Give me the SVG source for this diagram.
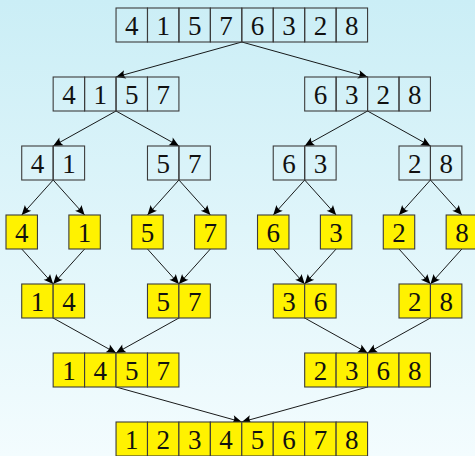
<svg xmlns="http://www.w3.org/2000/svg" width="475" height="456" viewBox="0 0 475 456">
<defs>
<linearGradient id="bg" x1="0" y1="0" x2="0" y2="1">
<stop offset="0" stop-color="#cbeef6"/>
<stop offset="1" stop-color="#f3fcfe"/>
</linearGradient>
<marker id="ah" viewBox="-10 -5 11 10" refX="0" refY="0" markerWidth="11" markerHeight="10" markerUnits="userSpaceOnUse" orient="auto">
<path d="M0,0 L-9.5,-4.3 Q-6.5,0 -9.5,4.3 Z" fill="#000"/>
</marker>
<style>
.c{fill:none;stroke:#3c3c3c;stroke-width:1.1}
.y{fill:#fff200;stroke:#3c3c3c;stroke-width:1.1}
.t{font-family:'Liberation Serif','DejaVu Serif',serif;font-size:27px;fill:#111;text-anchor:middle}
.e{stroke:#000;stroke-width:0.9;fill:none;marker-end:url(#ah)}
</style>
</defs>
<rect x="0" y="0" width="475" height="456" fill="url(#bg)"/>

<g id="connectors">
<line class="e" x1="241.8" y1="42" x2="116.04" y2="77"/>
<line class="e" x1="241.8" y1="42" x2="367.56" y2="77"/>
<line class="e" x1="116.04" y1="111" x2="53.16" y2="146"/>
<line class="e" x1="116.04" y1="111" x2="178.92" y2="146"/>
<line class="e" x1="367.56" y1="111" x2="304.68" y2="146"/>
<line class="e" x1="367.56" y1="111" x2="430.44" y2="146"/>
<line class="e" x1="53.16" y1="180" x2="21.72" y2="215"/>
<line class="e" x1="53.16" y1="180" x2="84.6" y2="215"/>
<line class="e" x1="178.92" y1="180" x2="147.48" y2="215"/>
<line class="e" x1="178.92" y1="180" x2="210.36" y2="215"/>
<line class="e" x1="304.68" y1="180" x2="273.24" y2="215"/>
<line class="e" x1="304.68" y1="180" x2="336.12" y2="215"/>
<line class="e" x1="430.44" y1="180" x2="399" y2="215"/>
<line class="e" x1="430.44" y1="180" x2="461.88" y2="215"/>
<line class="e" x1="21.72" y1="249" x2="53.16" y2="284"/>
<line class="e" x1="84.6" y1="249" x2="53.16" y2="284"/>
<line class="e" x1="147.48" y1="249" x2="178.92" y2="284"/>
<line class="e" x1="210.36" y1="249" x2="178.92" y2="284"/>
<line class="e" x1="273.24" y1="249" x2="304.68" y2="284"/>
<line class="e" x1="336.12" y1="249" x2="304.68" y2="284"/>
<line class="e" x1="399" y1="249" x2="430.44" y2="284"/>
<line class="e" x1="461.88" y1="249" x2="430.44" y2="284"/>
<line class="e" x1="53.16" y1="318" x2="116.04" y2="353"/>
<line class="e" x1="178.92" y1="318" x2="116.04" y2="353"/>
<line class="e" x1="304.68" y1="318" x2="367.56" y2="353"/>
<line class="e" x1="430.44" y1="318" x2="367.56" y2="353"/>
<line class="e" x1="116.04" y1="387" x2="241.8" y2="422"/>
<line class="e" x1="367.56" y1="387" x2="241.8" y2="422"/>
</g>

<g id="n_41576328">
<rect class="c" x="116.04" y="8" width="31.44" height="34"/>
<rect class="c" x="147.48" y="8" width="31.44" height="34"/>
<rect class="c" x="178.92" y="8" width="31.44" height="34"/>
<rect class="c" x="210.36" y="8" width="31.44" height="34"/>
<rect class="c" x="241.8" y="8" width="31.44" height="34"/>
<rect class="c" x="273.24" y="8" width="31.44" height="34"/>
<rect class="c" x="304.68" y="8" width="31.44" height="34"/>
<rect class="c" x="336.12" y="8" width="31.44" height="34"/>
<text class="t" x="131.76" y="34.5">4</text>
<text class="t" x="163.2" y="34.5">1</text>
<text class="t" x="194.64" y="34.5">5</text>
<text class="t" x="226.08" y="34.5">7</text>
<text class="t" x="257.52" y="34.5">6</text>
<text class="t" x="288.96" y="34.5">3</text>
<text class="t" x="320.4" y="34.5">2</text>
<text class="t" x="351.84" y="34.5">8</text>
</g>

<g id="n_4157">
<rect class="c" x="53.16" y="77" width="31.44" height="34"/>
<rect class="c" x="84.6" y="77" width="31.44" height="34"/>
<rect class="c" x="116.04" y="77" width="31.44" height="34"/>
<rect class="c" x="147.48" y="77" width="31.44" height="34"/>
<text class="t" x="68.88" y="103.5">4</text>
<text class="t" x="100.32" y="103.5">1</text>
<text class="t" x="131.76" y="103.5">5</text>
<text class="t" x="163.2" y="103.5">7</text>
</g>

<g id="n_6328">
<rect class="c" x="304.68" y="77" width="31.44" height="34"/>
<rect class="c" x="336.12" y="77" width="31.44" height="34"/>
<rect class="c" x="367.56" y="77" width="31.44" height="34"/>
<rect class="c" x="399" y="77" width="31.44" height="34"/>
<text class="t" x="320.4" y="103.5">6</text>
<text class="t" x="351.84" y="103.5">3</text>
<text class="t" x="383.28" y="103.5">2</text>
<text class="t" x="414.72" y="103.5">8</text>
</g>

<g id="n_41">
<rect class="c" x="21.72" y="146" width="31.44" height="34"/>
<rect class="c" x="53.16" y="146" width="31.44" height="34"/>
<text class="t" x="37.44" y="172.5">4</text>
<text class="t" x="68.88" y="172.5">1</text>
</g>
<g id="n_57">
<rect class="c" x="147.48" y="146" width="31.44" height="34"/>
<rect class="c" x="178.92" y="146" width="31.44" height="34"/>
<text class="t" x="163.2" y="172.5">5</text>
<text class="t" x="194.64" y="172.5">7</text>
</g>
<g id="n_63">
<rect class="c" x="273.24" y="146" width="31.44" height="34"/>
<rect class="c" x="304.68" y="146" width="31.44" height="34"/>
<text class="t" x="288.96" y="172.5">6</text>
<text class="t" x="320.4" y="172.5">3</text>
</g>
<g id="n_28">
<rect class="c" x="399" y="146" width="31.44" height="34"/>
<rect class="c" x="430.44" y="146" width="31.44" height="34"/>
<text class="t" x="414.72" y="172.5">2</text>
<text class="t" x="446.16" y="172.5">8</text>
</g>

<g id="s_4"><rect class="y" x="6" y="215" width="31.44" height="34"/><text class="t" x="21.72" y="241.5">4</text></g>
<g id="s_1"><rect class="y" x="68.88" y="215" width="31.44" height="34"/><text class="t" x="84.6" y="241.5">1</text></g>
<g id="s_5"><rect class="y" x="131.76" y="215" width="31.44" height="34"/><text class="t" x="147.48" y="241.5">5</text></g>
<g id="s_7"><rect class="y" x="194.64" y="215" width="31.44" height="34"/><text class="t" x="210.36" y="241.5">7</text></g>
<g id="s_6"><rect class="y" x="257.52" y="215" width="31.44" height="34"/><text class="t" x="273.24" y="241.5">6</text></g>
<g id="s_3"><rect class="y" x="320.4" y="215" width="31.44" height="34"/><text class="t" x="336.12" y="241.5">3</text></g>
<g id="s_2"><rect class="y" x="383.28" y="215" width="31.44" height="34"/><text class="t" x="399" y="241.5">2</text></g>
<g id="s_8"><rect class="y" x="446.16" y="215" width="31.44" height="34"/><text class="t" x="461.88" y="241.5">8</text></g>

<g id="m_14">
<rect class="y" x="21.72" y="284" width="31.44" height="34"/>
<rect class="y" x="53.16" y="284" width="31.44" height="34"/>
<text class="t" x="37.44" y="310.5">1</text>
<text class="t" x="68.88" y="310.5">4</text>
</g>
<g id="m_57">
<rect class="y" x="147.48" y="284" width="31.44" height="34"/>
<rect class="y" x="178.92" y="284" width="31.44" height="34"/>
<text class="t" x="163.2" y="310.5">5</text>
<text class="t" x="194.64" y="310.5">7</text>
</g>
<g id="m_36">
<rect class="y" x="273.24" y="284" width="31.44" height="34"/>
<rect class="y" x="304.68" y="284" width="31.44" height="34"/>
<text class="t" x="288.96" y="310.5">3</text>
<text class="t" x="320.4" y="310.5">6</text>
</g>
<g id="m_28">
<rect class="y" x="399" y="284" width="31.44" height="34"/>
<rect class="y" x="430.44" y="284" width="31.44" height="34"/>
<text class="t" x="414.72" y="310.5">2</text>
<text class="t" x="446.16" y="310.5">8</text>
</g>

<g id="m_1457">
<rect class="y" x="53.16" y="353" width="31.44" height="34"/>
<rect class="y" x="84.6" y="353" width="31.44" height="34"/>
<rect class="y" x="116.04" y="353" width="31.44" height="34"/>
<rect class="y" x="147.48" y="353" width="31.44" height="34"/>
<text class="t" x="68.88" y="379.5">1</text>
<text class="t" x="100.32" y="379.5">4</text>
<text class="t" x="131.76" y="379.5">5</text>
<text class="t" x="163.2" y="379.5">7</text>
</g>
<g id="m_2368">
<rect class="y" x="304.68" y="353" width="31.44" height="34"/>
<rect class="y" x="336.12" y="353" width="31.44" height="34"/>
<rect class="y" x="367.56" y="353" width="31.44" height="34"/>
<rect class="y" x="399" y="353" width="31.44" height="34"/>
<text class="t" x="320.4" y="379.5">2</text>
<text class="t" x="351.84" y="379.5">3</text>
<text class="t" x="383.28" y="379.5">6</text>
<text class="t" x="414.72" y="379.5">8</text>
</g>

<g id="m_12345678">
<rect class="y" x="116.04" y="422" width="31.44" height="34"/>
<rect class="y" x="147.48" y="422" width="31.44" height="34"/>
<rect class="y" x="178.92" y="422" width="31.44" height="34"/>
<rect class="y" x="210.36" y="422" width="31.44" height="34"/>
<rect class="y" x="241.8" y="422" width="31.44" height="34"/>
<rect class="y" x="273.24" y="422" width="31.44" height="34"/>
<rect class="y" x="304.68" y="422" width="31.44" height="34"/>
<rect class="y" x="336.12" y="422" width="31.44" height="34"/>
<text class="t" x="131.76" y="448.5">1</text>
<text class="t" x="163.2" y="448.5">2</text>
<text class="t" x="194.64" y="448.5">3</text>
<text class="t" x="226.08" y="448.5">4</text>
<text class="t" x="257.52" y="448.5">5</text>
<text class="t" x="288.96" y="448.5">6</text>
<text class="t" x="320.4" y="448.5">7</text>
<text class="t" x="351.84" y="448.5">8</text>
</g>
</svg>
